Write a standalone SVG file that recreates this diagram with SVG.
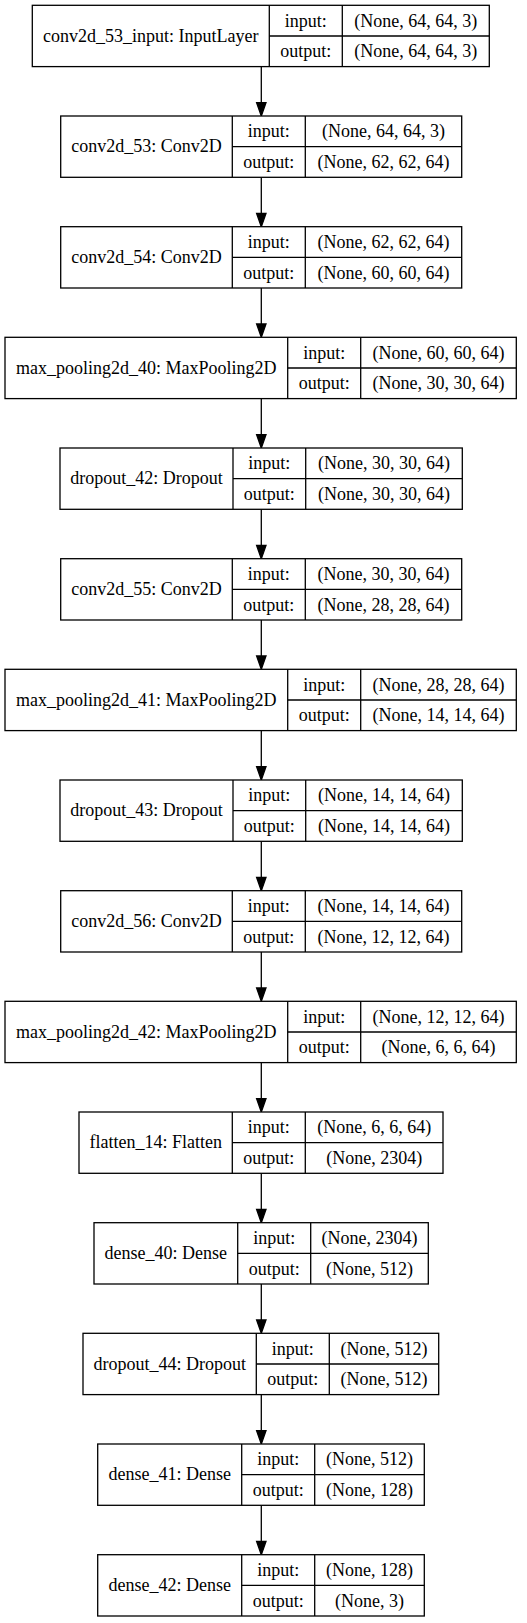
<svg xmlns="http://www.w3.org/2000/svg" width="527" height="1623" viewBox="0 0 527 1623">
<style>
.b{fill:#fff;stroke:#000;stroke-width:1.3}
.l{stroke:#000;stroke-width:1.3;fill:none}
.t{font-family:"Liberation Serif","Times New Roman",serif;font-size:18px;fill:#000;text-anchor:middle}
.e{stroke:#000;stroke-width:1.3;fill:none}
.h{fill:#000;stroke:#000;stroke-width:1.3}
</style>
<rect x="0" y="0" width="527" height="1623" fill="#fff"/>
<g id="connectors">
<line class="e" x1="261.3" y1="66.7" x2="261.3" y2="102.7"/><polygon class="h" points="256.6,102.7 266,102.7 261.3,116"/>
<line class="e" x1="261.3" y1="177.3" x2="261.3" y2="213.3"/><polygon class="h" points="256.6,213.3 266,213.3 261.3,226.7"/>
<line class="e" x1="261.3" y1="288" x2="261.3" y2="324"/><polygon class="h" points="256.6,324 266,324 261.3,337.3"/>
<line class="e" x1="261.3" y1="398.7" x2="261.3" y2="434.7"/><polygon class="h" points="256.6,434.7 266,434.7 261.3,448"/>
<line class="e" x1="261.3" y1="509.3" x2="261.3" y2="545.3"/><polygon class="h" points="256.6,545.3 266,545.3 261.3,558.7"/>
<line class="e" x1="261.3" y1="620" x2="261.3" y2="656"/><polygon class="h" points="256.6,656 266,656 261.3,669.3"/>
<line class="e" x1="261.3" y1="730.7" x2="261.3" y2="766.7"/><polygon class="h" points="256.6,766.7 266,766.7 261.3,780"/>
<line class="e" x1="261.3" y1="841.3" x2="261.3" y2="877.3"/><polygon class="h" points="256.6,877.3 266,877.3 261.3,890.7"/>
<line class="e" x1="261.3" y1="952" x2="261.3" y2="988"/><polygon class="h" points="256.6,988 266,988 261.3,1001.3"/>
<line class="e" x1="261.3" y1="1062.7" x2="261.3" y2="1098.7"/><polygon class="h" points="256.6,1098.7 266,1098.7 261.3,1112"/>
<line class="e" x1="261.3" y1="1173.3" x2="261.3" y2="1209.3"/><polygon class="h" points="256.6,1209.3 266,1209.3 261.3,1222.7"/>
<line class="e" x1="261.3" y1="1284" x2="261.3" y2="1320"/><polygon class="h" points="256.6,1320 266,1320 261.3,1333.3"/>
<line class="e" x1="261.3" y1="1394.7" x2="261.3" y2="1430.7"/><polygon class="h" points="256.6,1430.7 266,1430.7 261.3,1444"/>
<line class="e" x1="261.3" y1="1505.3" x2="261.3" y2="1541.3"/><polygon class="h" points="256.6,1541.3 266,1541.3 261.3,1554.7"/>
</g>
<g id="n0">
<rect class="b" x="32.3" y="5.3" width="457" height="61.3"/>
<line class="l" x1="269.3" y1="5.3" x2="269.3" y2="66.7"/><line class="l" x1="342.3" y1="5.3" x2="342.3" y2="66.7"/><line class="l" x1="269.3" y1="36" x2="489.3" y2="36"/>
<text class="t" x="150.8" y="41.5">conv2d_53_input: InputLayer</text>
<text class="t" x="305.8" y="26.5">input:</text><text class="t" x="305.8" y="57.2">output:</text>
<text class="t" x="415.8" y="26.5">(None, 64, 64, 3)</text><text class="t" x="415.8" y="57.2">(None, 64, 64, 3)</text>
</g>
<g id="n1">
<rect class="b" x="60.7" y="116" width="401" height="61.3"/>
<line class="l" x1="232.3" y1="116" x2="232.3" y2="177.3"/><line class="l" x1="305.3" y1="116" x2="305.3" y2="177.3"/><line class="l" x1="232.3" y1="146.7" x2="461.7" y2="146.7"/>
<text class="t" x="146.5" y="152.2">conv2d_53: Conv2D</text>
<text class="t" x="268.8" y="137.2">input:</text><text class="t" x="268.8" y="167.9">output:</text>
<text class="t" x="383.5" y="137.2">(None, 64, 64, 3)</text><text class="t" x="383.5" y="167.9">(None, 62, 62, 64)</text>
</g>
<g id="n2">
<rect class="b" x="60.7" y="226.7" width="401" height="61.3"/>
<line class="l" x1="232.3" y1="226.7" x2="232.3" y2="288"/><line class="l" x1="305.3" y1="226.7" x2="305.3" y2="288"/><line class="l" x1="232.3" y1="257.3" x2="461.7" y2="257.3"/>
<text class="t" x="146.5" y="262.8">conv2d_54: Conv2D</text>
<text class="t" x="268.8" y="247.8">input:</text><text class="t" x="268.8" y="278.5">output:</text>
<text class="t" x="383.5" y="247.8">(None, 62, 62, 64)</text><text class="t" x="383.5" y="278.5">(None, 60, 60, 64)</text>
</g>
<g id="n3">
<rect class="b" x="5" y="337.3" width="511.3" height="61.3"/>
<line class="l" x1="287.7" y1="337.3" x2="287.7" y2="398.7"/><line class="l" x1="360.7" y1="337.3" x2="360.7" y2="398.7"/><line class="l" x1="287.7" y1="368" x2="516.3" y2="368"/>
<text class="t" x="146.3" y="373.5">max_pooling2d_40: MaxPooling2D</text>
<text class="t" x="324.2" y="358.5">input:</text><text class="t" x="324.2" y="389.2">output:</text>
<text class="t" x="438.5" y="358.5">(None, 60, 60, 64)</text><text class="t" x="438.5" y="389.2">(None, 30, 30, 64)</text>
</g>
<g id="n4">
<rect class="b" x="60" y="448" width="402.3" height="61.3"/>
<line class="l" x1="233" y1="448" x2="233" y2="509.3"/><line class="l" x1="305.7" y1="448" x2="305.7" y2="509.3"/><line class="l" x1="233" y1="478.7" x2="462.3" y2="478.7"/>
<text class="t" x="146.5" y="484.2">dropout_42: Dropout</text>
<text class="t" x="269.3" y="469.2">input:</text><text class="t" x="269.3" y="499.9">output:</text>
<text class="t" x="384" y="469.2">(None, 30, 30, 64)</text><text class="t" x="384" y="499.9">(None, 30, 30, 64)</text>
</g>
<g id="n5">
<rect class="b" x="60.7" y="558.7" width="401" height="61.3"/>
<line class="l" x1="232.3" y1="558.7" x2="232.3" y2="620"/><line class="l" x1="305.3" y1="558.7" x2="305.3" y2="620"/><line class="l" x1="232.3" y1="589.3" x2="461.7" y2="589.3"/>
<text class="t" x="146.5" y="594.8">conv2d_55: Conv2D</text>
<text class="t" x="268.8" y="579.8">input:</text><text class="t" x="268.8" y="610.5">output:</text>
<text class="t" x="383.5" y="579.8">(None, 30, 30, 64)</text><text class="t" x="383.5" y="610.5">(None, 28, 28, 64)</text>
</g>
<g id="n6">
<rect class="b" x="5" y="669.3" width="511.3" height="61.3"/>
<line class="l" x1="287.7" y1="669.3" x2="287.7" y2="730.7"/><line class="l" x1="360.7" y1="669.3" x2="360.7" y2="730.7"/><line class="l" x1="287.7" y1="700" x2="516.3" y2="700"/>
<text class="t" x="146.3" y="705.5">max_pooling2d_41: MaxPooling2D</text>
<text class="t" x="324.2" y="690.5">input:</text><text class="t" x="324.2" y="721.2">output:</text>
<text class="t" x="438.5" y="690.5">(None, 28, 28, 64)</text><text class="t" x="438.5" y="721.2">(None, 14, 14, 64)</text>
</g>
<g id="n7">
<rect class="b" x="60" y="780" width="402.3" height="61.3"/>
<line class="l" x1="233" y1="780" x2="233" y2="841.3"/><line class="l" x1="305.7" y1="780" x2="305.7" y2="841.3"/><line class="l" x1="233" y1="810.7" x2="462.3" y2="810.7"/>
<text class="t" x="146.5" y="816.2">dropout_43: Dropout</text>
<text class="t" x="269.3" y="801.2">input:</text><text class="t" x="269.3" y="831.9">output:</text>
<text class="t" x="384" y="801.2">(None, 14, 14, 64)</text><text class="t" x="384" y="831.9">(None, 14, 14, 64)</text>
</g>
<g id="n8">
<rect class="b" x="60.7" y="890.7" width="401" height="61.3"/>
<line class="l" x1="232.3" y1="890.7" x2="232.3" y2="952"/><line class="l" x1="305.3" y1="890.7" x2="305.3" y2="952"/><line class="l" x1="232.3" y1="921.3" x2="461.7" y2="921.3"/>
<text class="t" x="146.5" y="926.8">conv2d_56: Conv2D</text>
<text class="t" x="268.8" y="911.8">input:</text><text class="t" x="268.8" y="942.5">output:</text>
<text class="t" x="383.5" y="911.8">(None, 14, 14, 64)</text><text class="t" x="383.5" y="942.5">(None, 12, 12, 64)</text>
</g>
<g id="n9">
<rect class="b" x="5" y="1001.3" width="511.3" height="61.3"/>
<line class="l" x1="287.7" y1="1001.3" x2="287.7" y2="1062.7"/><line class="l" x1="360.7" y1="1001.3" x2="360.7" y2="1062.7"/><line class="l" x1="287.7" y1="1032" x2="516.3" y2="1032"/>
<text class="t" x="146.3" y="1037.5">max_pooling2d_42: MaxPooling2D</text>
<text class="t" x="324.2" y="1022.5">input:</text><text class="t" x="324.2" y="1053.2">output:</text>
<text class="t" x="438.5" y="1022.5">(None, 12, 12, 64)</text><text class="t" x="438.5" y="1053.2">(None, 6, 6, 64)</text>
</g>
<g id="n10">
<rect class="b" x="79" y="1112" width="364" height="61.3"/>
<line class="l" x1="232.3" y1="1112" x2="232.3" y2="1173.3"/><line class="l" x1="305.3" y1="1112" x2="305.3" y2="1173.3"/><line class="l" x1="232.3" y1="1142.7" x2="443" y2="1142.7"/>
<text class="t" x="155.7" y="1148.2">flatten_14: Flatten</text>
<text class="t" x="268.8" y="1133.2">input:</text><text class="t" x="268.8" y="1163.9">output:</text>
<text class="t" x="374.2" y="1133.2">(None, 6, 6, 64)</text><text class="t" x="374.2" y="1163.9">(None, 2304)</text>
</g>
<g id="n11">
<rect class="b" x="94" y="1222.7" width="334.3" height="61.3"/>
<line class="l" x1="237.7" y1="1222.7" x2="237.7" y2="1284"/><line class="l" x1="310.7" y1="1222.7" x2="310.7" y2="1284"/><line class="l" x1="237.7" y1="1253.3" x2="428.3" y2="1253.3"/>
<text class="t" x="165.8" y="1258.8">dense_40: Dense</text>
<text class="t" x="274.2" y="1243.8">input:</text><text class="t" x="274.2" y="1274.5">output:</text>
<text class="t" x="369.5" y="1243.8">(None, 2304)</text><text class="t" x="369.5" y="1274.5">(None, 512)</text>
</g>
<g id="n12">
<rect class="b" x="83" y="1333.3" width="355.7" height="61.3"/>
<line class="l" x1="256.3" y1="1333.3" x2="256.3" y2="1394.7"/><line class="l" x1="329.3" y1="1333.3" x2="329.3" y2="1394.7"/><line class="l" x1="256.3" y1="1364" x2="438.7" y2="1364"/>
<text class="t" x="169.7" y="1369.5">dropout_44: Dropout</text>
<text class="t" x="292.8" y="1354.5">input:</text><text class="t" x="292.8" y="1385.2">output:</text>
<text class="t" x="384" y="1354.5">(None, 512)</text><text class="t" x="384" y="1385.2">(None, 512)</text>
</g>
<g id="n13">
<rect class="b" x="97.7" y="1444" width="326.6" height="61.3"/>
<line class="l" x1="241.7" y1="1444" x2="241.7" y2="1505.3"/><line class="l" x1="314.7" y1="1444" x2="314.7" y2="1505.3"/><line class="l" x1="241.7" y1="1474.7" x2="424.3" y2="1474.7"/>
<text class="t" x="169.7" y="1480.2">dense_41: Dense</text>
<text class="t" x="278.2" y="1465.2">input:</text><text class="t" x="278.2" y="1495.9">output:</text>
<text class="t" x="369.5" y="1465.2">(None, 512)</text><text class="t" x="369.5" y="1495.9">(None, 128)</text>
</g>
<g id="n14">
<rect class="b" x="97.7" y="1554.7" width="326.6" height="61.3"/>
<line class="l" x1="241.7" y1="1554.7" x2="241.7" y2="1616"/><line class="l" x1="314.7" y1="1554.7" x2="314.7" y2="1616"/><line class="l" x1="241.7" y1="1585.3" x2="424.3" y2="1585.3"/>
<text class="t" x="169.7" y="1590.8">dense_42: Dense</text>
<text class="t" x="278.2" y="1575.8">input:</text><text class="t" x="278.2" y="1606.5">output:</text>
<text class="t" x="369.5" y="1575.8">(None, 128)</text><text class="t" x="369.5" y="1606.5">(None, 3)</text>
</g>
</svg>
